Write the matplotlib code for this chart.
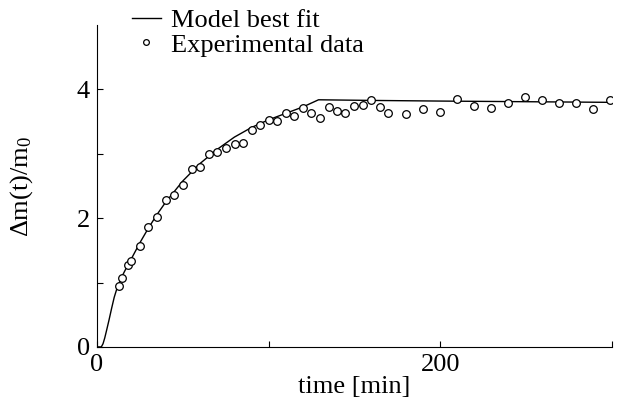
import matplotlib
matplotlib.use("Agg")
import matplotlib.pyplot as plt

plt.rcParams['font.family'] = ['Liberation Serif', 'DejaVu Serif']
plt.rcParams['mathtext.fontset'] = 'custom'
plt.rcParams['mathtext.rm'] = 'Liberation Serif'
plt.rcParams['mathtext.it'] = 'Liberation Serif:italic'

# measured points (time in min, relative mass gain)
exp_t = [12.8, 14.8, 17.9, 19.8, 24.9, 29.9, 35.0, 40.0, 45.1, 50.1, 55.2, 60.2,
         65.3, 70.1, 75.0, 80.1, 85.1, 90.2, 95.0, 100.1, 105.0, 110.0, 114.9,
         119.9, 124.8, 129.8, 134.9, 139.7, 144.6, 149.9, 154.7, 159.8, 164.8,
         169.3, 179.8, 189.7, 199.6, 209.5, 219.4, 229.3, 239.4, 249.4, 259.2,
         269.2, 279.1, 289.0, 299.0]
exp_m = [0.95, 1.07, 1.27, 1.33, 1.57, 1.87, 2.02, 2.28, 2.36, 2.51, 2.77, 2.79,
         3.00, 3.03, 3.09, 3.15, 3.17, 3.37, 3.45, 3.53, 3.51, 3.64, 3.59,
         3.71, 3.63, 3.55, 3.73, 3.67, 3.63, 3.75, 3.76, 3.84, 3.73,
         3.63, 3.62, 3.70, 3.65, 3.85, 3.75, 3.72, 3.79, 3.89, 3.83,
         3.79, 3.79, 3.69, 3.83]

# model curve
fit_t = [0, 2.5, 3.5, 4.5, 5.5, 7, 8.5, 10, 11.5, 13, 15, 17.5, 20, 25, 30, 35,
         40, 50, 60, 70, 80, 90, 100, 110, 120, 129, 160, 200, 250, 300]
fit_m = [0, 0, 0.05, 0.14, 0.25, 0.42, 0.60, 0.77, 0.90, 1.0, 1.12, 1.25, 1.37,
         1.62, 1.85, 2.06, 2.25, 2.58, 2.85, 3.07, 3.26, 3.41, 3.53, 3.63, 3.73,
         3.84, 3.83, 3.82, 3.81, 3.80]

fig = plt.figure(figsize=(6.24, 4.12), dpi=100)
ax = fig.add_axes([0.1555, 0.158, 0.8255, 0.781])

ax.plot(fit_t, fit_m, color='black', lw=1.0, label='Model best fit')
ax.plot(exp_t, exp_m, 'o', mfc='white', mec='black', mew=0.9, ms=5.5,
        ls='none', label='Experimental data')

ax.set_xlim(0, 300)
ax.set_ylim(0, 5)
ax.set_xticks([0, 200])
ax.set_xticks([100, 300], minor=True)
ax.set_yticks([0, 2, 4])
ax.set_yticks([1, 3], minor=True)
ax.tick_params(which='both', direction='in', length=4, width=0.8, labelsize=19, pad=5)
for s in ['top', 'right']:
    ax.spines[s].set_visible(False)

ax.set_xlabel('time [min]', fontsize=19, labelpad=0)
ax.set_ylabel(r'$\Delta$m(t)/m$_0$', fontsize=19, labelpad=30)

ax.legend(loc='upper left', bbox_to_anchor=(0.047, 1.085), frameon=False,
          fontsize=19, handlelength=1.1, handletextpad=0.4, labelspacing=0.05,
          borderaxespad=0, markerscale=0.75)

fig.savefig('out.png', dpi=100)
